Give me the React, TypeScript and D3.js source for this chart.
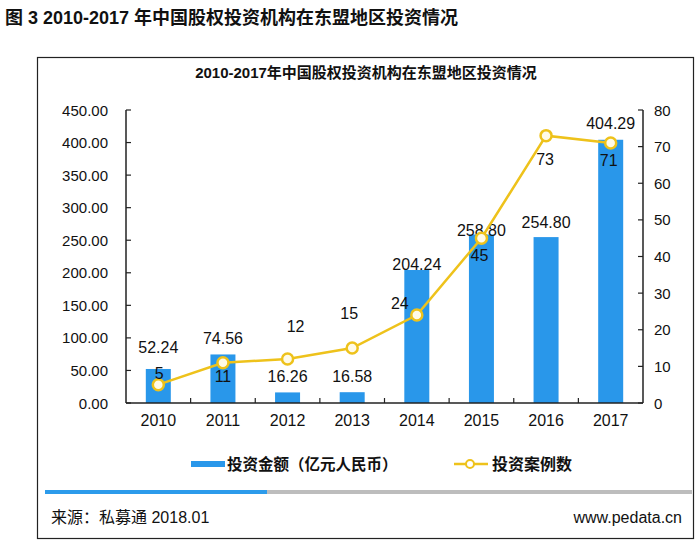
import React from "react";
import * as d3 from "d3";

const years = ["2010", "2011", "2012", "2013", "2014", "2015", "2016", "2017"];
const amounts = [52.24, 74.56, 16.26, 16.58, 204.24, 258.8, 254.8, 404.29];
const cases = [5, 11, 12, 15, 24, 45, 73, 71];
const leftTicks = [0, 50, 100, 150, 200, 250, 300, 350, 400, 450];
const rightTicks = [0, 10, 20, 30, 40, 50, 60, 70, 80];

// label placement tweaks (styling, not data)
const barLabelDy = [-22, -16, -16, -16, -6, -4, -15, -17];
const lineLabelOff: [number, number][] = [
  [1, -12], [0, 13], [8, -33], [-3, -35], [-17, -12], [-2, 17], [-1, 23], [-2, 17],
];

const FONT = "'Liberation Sans', Arial, sans-serif";
const CJK = "'Liberation Sans', 'Noto Sans CJK SC', sans-serif";
const BAR = "#2997EA";
const GOLD = "#EEC21B";

export default function App() {
  const left = 126, right = 643, top = 110, bottom = 403;
  const x = d3.scaleBand<string>().domain(years).range([left, right]).paddingInner(0).paddingOuter(0);
  const yL = d3.scaleLinear().domain([0, 450]).range([bottom, top]);
  const yR = d3.scaleLinear().domain([0, 80]).range([bottom, top]);
  const bw = 25;
  const cx = (y: string) => (x(y) as number) + x.bandwidth() / 2;
  const line = d3.line<number>().x((_, i) => cx(years[i])).y((d) => yR(d));

  return (
    <svg width={700} height={543} style={{ position: "absolute", left: 0, top: 0, background: "#fff" }}>
      <rect x={0} y={0} width={700} height={543} fill="#fff" />
      <text x={5} y={24} fontFamily={CJK} fontWeight="bold" fontSize={18} fill="#111">
        图 3 2010-2017 年中国股权投资机构在东盟地区投资情况
      </text>
      <rect x={37.5} y={57.5} width={656} height={481} fill="none" stroke="#222" strokeWidth={1.2} />
      <text x={366} y={78} textAnchor="middle" fontFamily={CJK} fontWeight="bold" fontSize={15} fill="#111">
        2010-2017年中国股权投资机构在东盟地区投资情况
      </text>

      {/* bars */}
      {amounts.map((v, i) => (
        <rect key={i} x={cx(years[i]) - bw / 2} y={yL(v)} width={bw} height={bottom - yL(v)} fill={BAR} />
      ))}

      {/* axes */}
      <line x1={left} x2={left} y1={top} y2={bottom} stroke="#222" strokeWidth={1.5} />
      <line x1={right} x2={right} y1={top} y2={bottom} stroke="#222" strokeWidth={1.5} />
      <line x1={left} x2={right} y1={bottom} y2={bottom} stroke="#222" strokeWidth={1.5} />
      {leftTicks.map((t) => (
        <g key={"l" + t}>
          <line x1={left} x2={left + 5} y1={yL(t)} y2={yL(t)} stroke="#222" strokeWidth={1.2} />
          <text x={108} y={yL(t) + 5.5} textAnchor="end" fontFamily={FONT} fontSize={15} fill="#111">
            {t.toFixed(2)}
          </text>
        </g>
      ))}
      {rightTicks.map((t) => (
        <g key={"r" + t}>
          <line x1={right - 5} x2={right} y1={yR(t)} y2={yR(t)} stroke="#222" strokeWidth={1.2} />
          <text x={654} y={yR(t) + 5.5} textAnchor="start" fontFamily={FONT} fontSize={15} fill="#111">
            {t}
          </text>
        </g>
      ))}
      {years.slice(1).map((y) => (
        <line key={"t" + y} x1={x(y) as number} x2={x(y) as number} y1={bottom - 5} y2={bottom} stroke="#222" strokeWidth={1.2} />
      ))}
      {years.map((y) => (
        <text key={"x" + y} x={cx(y)} y={426} textAnchor="middle" fontFamily={FONT} fontSize={16} fill="#111">
          {y}
        </text>
      ))}

      {/* bar labels */}
      {amounts.map((v, i) => (
        <text key={"bl" + i} x={cx(years[i])} y={yL(v) + barLabelDy[i] + 6} textAnchor="middle" fontFamily={FONT} fontSize={16} fill="#111">
          {v.toFixed(2)}
        </text>
      ))}

      {/* line */}
      <path d={line(cases) || ""} fill="none" stroke={GOLD} strokeWidth={2.5} />
      {cases.map((v, i) => (
        <circle key={"c" + i} cx={cx(years[i])} cy={yR(v)} r={5.5} fill="#fffbe8" stroke={GOLD} strokeWidth={2.5} />
      ))}
      {cases.map((v, i) => (
        <text key={"cl" + i} x={cx(years[i]) + lineLabelOff[i][0]} y={yR(v) + lineLabelOff[i][1] + 6} textAnchor="middle" fontFamily={FONT} fontSize={16} fill="#111">
          {v}
        </text>
      ))}

      {/* legend */}
      <rect x={191} y={461} width={34} height={6} fill={BAR} />
      <text x={227} y={470} fontFamily={CJK} fontWeight="bold" fontSize={15.5} fill="#111">
        投资金额（亿元人民币）
      </text>
      <line x1={454} x2={488} y1={464} y2={464} stroke={GOLD} strokeWidth={2.5} />
      <circle cx={470} cy={464} r={4} fill="#fff" stroke={GOLD} strokeWidth={2} />
      <text x={492} y={470} fontFamily={CJK} fontWeight="bold" fontSize={16} fill="#111">
        投资案例数
      </text>

      {/* footer */}
      <rect x={45} y={490} width={222} height={4} fill="#2C9BEB" />
      <rect x={267} y={490} width={425} height={4} fill="#BDBDBD" />
      <text x={51} y={523} fontFamily={CJK} fontSize={16} fill="#111">
        来源：私募通 2018.01
      </text>
      <text x={682} y={523} textAnchor="end" fontFamily={FONT} fontSize={16} fill="#111">
        www.pedata.cn
      </text>
    </svg>
  );
}
